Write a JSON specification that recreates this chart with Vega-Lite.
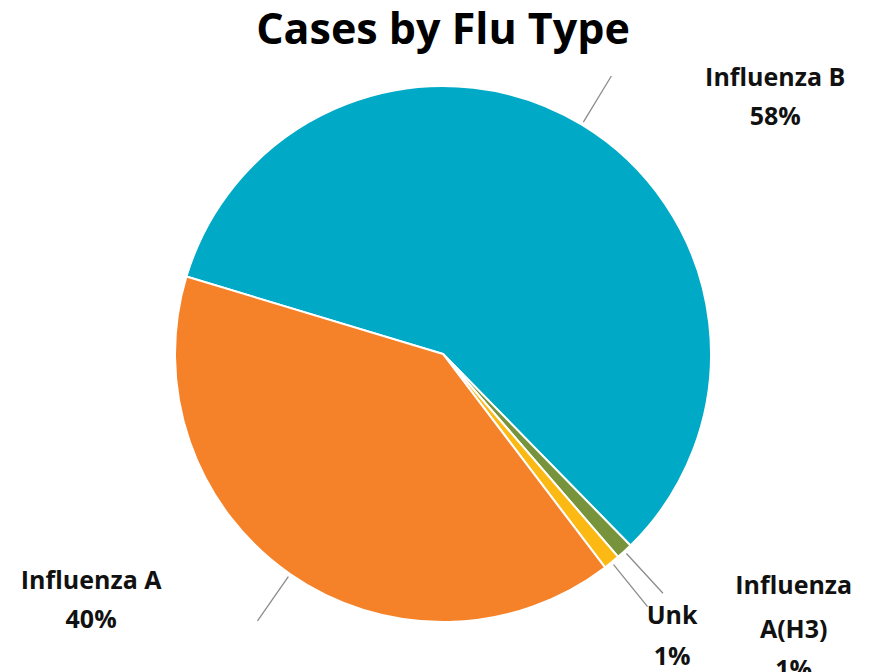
{
  "$schema": "https://vega.github.io/schema/vega-lite/v6.json",
  "autosize": "none",
  "width": 854,
  "height": 588,
  "padding": {"left": 16, "top": 60, "right": 0, "bottom": 24},
  "background": "white",
  "title": {"text": "Cases by Flu Type", "font": "Open Sans", "fontSize": 43, "fontWeight": "bold", "color": "#000000", "anchor": "middle", "baseline": "alphabetic", "frame": "group", "offset": 20, "dy": 47},
  "config": {"view": {"stroke": null}, "text": {"font": "Open Sans", "fontWeight": "bold", "fontSize": 25, "color": "#111111"}},
  "data": {"values": [
    {"type": "Influenza B", "pct": 0.58, "order": 1},
    {"type": "Influenza A(H3)", "pct": 0.01, "order": 2},
    {"type": "Unk", "pct": 0.01, "order": 3},
    {"type": "Influenza A", "pct": 0.40, "order": 4}
  ]},
  "transform": [
    {"stack": "pct", "groupby": [], "sort": [{"field": "order", "order": "ascending"}], "as": ["p0", "p1"]},
    {"fold": ["p0", "p1"], "as": ["edge", "ang"]},
    {"aggregate": [{"op": "mean", "field": "ang", "as": "mid"}], "groupby": ["type", "pct", "order"]}
  ],
  "layer": [
    {
      "mark": {"type": "arc", "outerRadius": 268, "stroke": "white", "strokeWidth": 2},
      "encoding": {
        "theta": {"field": "pct", "type": "quantitative", "stack": true, "scale": {"domain": [0, 1], "range": [-1.2776, 5.0056]}},
        "order": {"field": "order", "type": "quantitative"},
        "color": {"field": "type", "type": "nominal", "legend": null,
          "scale": {"domain": ["Influenza B", "Influenza A(H3)", "Unk", "Influenza A"], "range": ["#00A9C6", "#77933C", "#FDB913", "#F58229"]}}
      }
    },
    {
      "mark": {"type": "arc", "innerRadius": 271, "outerRadius": 325, "stroke": "#8c8c8c", "strokeWidth": 1.3, "fillOpacity": 0, "fill": "white"},
      "encoding": {
        "theta": {"field": "mid", "type": "quantitative"},
        "theta2": {"field": "mid"}
      }
    },
    {
      "transform": [{"filter": {"field": "type", "equal": "Influenza B"}}],
      "mark": {"type": "text", "radius": 427, "thetaOffset": 0.347, "align": "center", "baseline": "alphabetic"},
      "encoding": {"theta": {"field": "mid", "type": "quantitative"}, "text": {"field": "type"}}
    },
    {
      "transform": [{"filter": {"field": "type", "equal": "Influenza B"}}],
      "mark": {"type": "text", "radius": 427, "thetaOffset": 0.347, "align": "center", "baseline": "alphabetic", "dy": 39},
      "encoding": {"theta": {"field": "mid", "type": "quantitative"}, "text": {"field": "pct", "format": ".0%"}}
    },
    {
      "transform": [{"filter": {"field": "type", "equal": "Influenza A"}}],
      "mark": {"type": "text", "radius": 423, "thetaOffset": 0.375, "align": "center", "baseline": "alphabetic"},
      "encoding": {"theta": {"field": "mid", "type": "quantitative"}, "text": {"field": "type"}}
    },
    {
      "transform": [{"filter": {"field": "type", "equal": "Influenza A"}}],
      "mark": {"type": "text", "radius": 423, "thetaOffset": 0.375, "align": "center", "baseline": "alphabetic", "dy": 39},
      "encoding": {"theta": {"field": "mid", "type": "quantitative"}, "text": {"field": "pct", "format": ".0%"}}
    },
    {
      "transform": [{"filter": {"field": "type", "equal": "Unk"}}],
      "mark": {"type": "text", "radius": 354, "thetaOffset": -0.023, "align": "center", "baseline": "alphabetic"},
      "encoding": {"theta": {"field": "mid", "type": "quantitative"}, "text": {"field": "type"}}
    },
    {
      "transform": [{"filter": {"field": "type", "equal": "Unk"}}],
      "mark": {"type": "text", "radius": 354, "thetaOffset": -0.023, "align": "center", "baseline": "alphabetic", "dy": 41},
      "encoding": {"theta": {"field": "mid", "type": "quantitative"}, "text": {"field": "pct", "format": ".0%"}}
    },
    {
      "transform": [{"filter": {"field": "type", "equal": "Influenza A(H3)"}}],
      "mark": {"type": "text", "radius": 425, "thetaOffset": -0.227, "align": "center", "baseline": "alphabetic", "lineBreak": " ", "lineHeight": 44},
      "encoding": {"theta": {"field": "mid", "type": "quantitative"}, "text": {"field": "type"}}
    },
    {
      "transform": [{"filter": {"field": "type", "equal": "Influenza A(H3)"}}],
      "mark": {"type": "text", "radius": 425, "thetaOffset": -0.227, "align": "center", "baseline": "alphabetic", "dy": 84},
      "encoding": {"theta": {"field": "mid", "type": "quantitative"}, "text": {"field": "pct", "format": ".0%"}}
    }
  ]
}
